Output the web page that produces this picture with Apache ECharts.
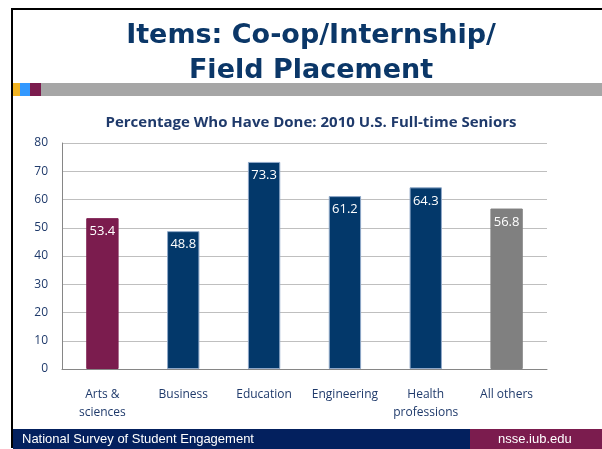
<!DOCTYPE html>
<html>
<head>
<meta charset="utf-8">
<script src="https://cdn.jsdelivr.net/npm/echarts@6/dist/echarts.min.js"></script>
<style>
  html, body { margin: 0; padding: 0; background: #ffffff; }
  #chart { width: 602px; height: 449px; }
</style>
</head>
<body>
<div id="chart"></div>
<script>
const categories = ['Arts &\nsciences', 'Business', 'Education', 'Engineering', 'Health\nprofessions', 'All others']
const values = [53.4, 48.8, 73.3, 61.2, 64.3, 56.8]
const barColors = ['#7b1c4e', '#03386a', '#03386a', '#03386a', '#03386a', '#808080']
const yTicks = [0, 10, 20, 30, 40, 50, 60, 70, 80]

const myChart = echarts.init(document.getElementById('chart'))

const option = {
  animation: false,
  backgroundColor: '#ffffff',
  title: [
    {
      text: 'Items: Co-op/Internship/\nField Placement',
      left: 306,
      textAlign: 'center',
      top: 13,
      textStyle: {
        color: '#0b3768',
        fontFamily: 'DejaVu Sans',
        fontWeight: 'bold',
        fontSize: 27,
        lineHeight: 35
      }
    },
    {
      text: 'Percentage Who Have Done: 2010 U.S. Full-time Seniors',
      left: 306,
      textAlign: 'center',
      top: 110,
      textStyle: {
        color: '#1f3a6b',
        fontFamily: 'Open Sans',
        fontWeight: 'bold',
        fontSize: 15
      }
    }
  ],
  graphic: [
    // slide frame
    { type: 'rect', shape: { x: 11, y: 8, width: 600, height: 2 }, style: { fill: '#000000' } },
    { type: 'rect', shape: { x: 11, y: 8, width: 2, height: 440 }, style: { fill: '#000000' } },
    // colour strip under the title
    { type: 'rect', shape: { x: 13, y: 83, width: 7, height: 13 }, style: { fill: '#f0b323' } },
    { type: 'rect', shape: { x: 20, y: 83, width: 10, height: 13 }, style: { fill: '#3399ff' } },
    { type: 'rect', shape: { x: 30, y: 83, width: 11, height: 13 }, style: { fill: '#7b1c4e' } },
    { type: 'rect', shape: { x: 41, y: 83, width: 561, height: 13 }, style: { fill: '#a6a6a6' } },
    // footer
    { type: 'rect', shape: { x: 13, y: 429, width: 457, height: 20 }, style: { fill: '#03205e' } },
    { type: 'rect', shape: { x: 470, y: 429, width: 132, height: 20 }, style: { fill: '#7b1c4e' } },
    {
      type: 'text', left: 22, top: 433,
      style: { text: 'National Survey of Student Engagement', fill: '#ffffff', font: '13px "Liberation Sans"' }
    },
    {
      type: 'text', left: 498, top: 433,
      style: { text: 'nsse.iub.edu', fill: '#ffffff', font: '13px "Liberation Sans"' }
    }
  ],
  grid: {
    left: 62,
    right: 55,
    top: 143,
    bottom: 80
  },
  xAxis: {
    type: 'category',
    data: categories,
    axisLine: { show: true, lineStyle: { color: '#868686', width: 1 } },
    axisTick: { show: false },
    axisLabel: {
      color: '#1f3a6b',
      fontFamily: 'Open Sans',
      fontSize: 12,
      lineHeight: 18,
      margin: 17,
      interval: 0
    }
  },
  yAxis: {
    type: 'value',
    min: 0,
    max: 80,
    interval: 10,
    axisLine: { show: true, lineStyle: { color: '#868686', width: 1 } },
    axisTick: { show: false },
    axisLabel: {
      color: '#1f3a6b',
      fontFamily: 'Open Sans',
      fontSize: 12,
      margin: 14,
      formatter: (v) => (yTicks.includes(v) ? String(v) : '')
    },
    splitLine: { show: true, lineStyle: { color: '#bfbfbf', width: 1 } }
  },
  series: [
    {
      type: 'bar',
      barWidth: '40%',
      data: values.map((v, i) => ({
        value: v,
        itemStyle: {
          color: barColors[i],
          borderColor: i > 0 && i < 5 ? '#8fa8c8' : barColors[i],
          borderWidth: 1
        }
      })),
      label: {
        show: true,
        position: 'insideTop',
        distance: 7,
        color: '#ffffff',
        fontFamily: 'Open Sans',
        fontSize: 13,
        formatter: (p) => p.value.toFixed(1)
      }
    }
  ]
}

myChart.setOption(option)
</script>
</body>
</html>
